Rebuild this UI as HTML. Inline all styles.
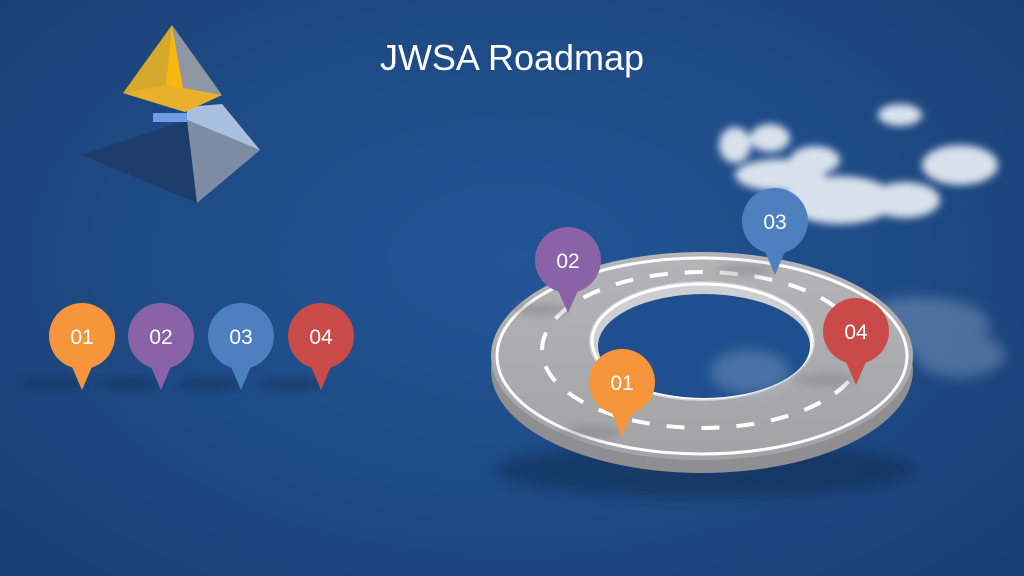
<!DOCTYPE html>
<html><head><meta charset="utf-8"><style>
html,body{margin:0;padding:0;width:1024px;height:576px;overflow:hidden;}
body{background:radial-gradient(ellipse at 50% 45%,#225596 0%,#1f4c88 45%,#1a3e72 100%);}
svg{position:absolute;left:0;top:0;}
text{font-family:"Liberation Sans","DejaVu Sans",sans-serif;}
</style></head><body>
<svg width="1024" height="576" viewBox="0 0 1024 576">
<defs>
<filter id="bl" x="-50%" y="-50%" width="200%" height="200%"><feGaussianBlur stdDeviation="6"/></filter>
<filter id="bl2" x="-50%" y="-50%" width="200%" height="200%"><feGaussianBlur stdDeviation="4"/></filter>
<linearGradient id="road" x1="0" y1="0" x2="0" y2="1"><stop offset="0" stop-color="#b5b5b7"/><stop offset="1" stop-color="#a3a3a6"/></linearGradient>
</defs>
<text x="512" y="70" font-size="36" fill="#fff" text-anchor="middle">JWSA Roadmap</text>
<!-- pyramid bottom -->
<polygon points="82,155 187,120 197,203" fill="#1d3d6a"/>
<polygon points="187,120 260,150 197,203" fill="#7d8ca3"/>
<polygon points="187,107 222,104 260,150 187,120" fill="#a9bfe0"/>
<polygon points="153,113 187,113 187,122 153,122" fill="#6d9ee6"/>
<!-- pyramid top -->
<polygon points="172,25 123,93 185,112" fill="#d4a92c"/>
<polygon points="172,25 222,95 185,112" fill="#8e97a3"/>
<polygon points="172,25 166,85 183,88" fill="#f6b80f"/>
<polygon points="123,93 166,85 183,88 222,95 185,112" fill="#e9b02a"/>
<!-- clouds -->
<g fill="#eef2f8" filter="url(#bl2)" opacity="0.9">
<ellipse cx="735" cy="145" rx="16" ry="18"/>
<ellipse cx="770" cy="138" rx="20" ry="14"/>
<ellipse cx="780" cy="175" rx="45" ry="16"/>
<ellipse cx="840" cy="200" rx="55" ry="24"/>
<ellipse cx="905" cy="200" rx="35" ry="18"/>
<ellipse cx="960" cy="165" rx="38" ry="20"/>
<ellipse cx="900" cy="115" rx="22" ry="11"/>
<ellipse cx="815" cy="160" rx="25" ry="14"/>
</g>
<g fill="#c9d7ea" filter="url(#bl)" opacity="0.28">
<ellipse cx="920" cy="325" rx="70" ry="28"/>
<ellipse cx="960" cy="355" rx="45" ry="22"/>
<ellipse cx="760" cy="370" rx="45" ry="30"/>
</g>
<!-- shadow under ring -->
<ellipse cx="705" cy="470" rx="210" ry="28" fill="#10284a" opacity="0.45" filter="url(#bl)"/>
<!-- ring side -->
<ellipse cx="702" cy="370" rx="211" ry="103" fill="#8f8f92"/>
<ellipse cx="702" cy="356" rx="211" ry="104" fill="url(#road)"/>
<ellipse cx="702" cy="356" rx="205" ry="98" fill="none" stroke="#fff" stroke-width="3"/>
<ellipse cx="702" cy="350" rx="160" ry="78" fill="none" stroke="#fff" stroke-width="4" stroke-dasharray="18 17"/>
<!-- inner hole -->
<ellipse cx="702" cy="341" rx="113" ry="60" fill="#cfcfd2"/>
<ellipse cx="702" cy="341" rx="110" ry="57" fill="none" stroke="#fff" stroke-width="3"/>
<ellipse cx="704" cy="346" rx="106" ry="52" fill="#1f4f8e"/>
<ellipse cx="750" cy="372" rx="40" ry="22" fill="#c9d7ea" opacity="0.25" filter="url(#bl)"/>
<!-- pin shadows -->
<g fill="#12305a" opacity="0.55" filter="url(#bl2)">
<ellipse cx="52" cy="384" rx="32" ry="6"/><ellipse cx="130" cy="384" rx="32" ry="6"/><ellipse cx="210" cy="384" rx="32" ry="6"/><ellipse cx="290" cy="384" rx="32" ry="6"/>
</g>
<g fill="#777" opacity="0.4" filter="url(#bl2)">
<ellipse cx="540" cy="310" rx="28" ry="6"/><ellipse cx="745" cy="270" rx="30" ry="6"/><ellipse cx="825" cy="380" rx="30" ry="6"/><ellipse cx="590" cy="432" rx="30" ry="6"/>
</g>
<!-- pins -->
<g font-size="21" text-anchor="middle" fill="#fff">
<g fill="#f7953d"><circle cx="82" cy="336" r="33"/><polygon points="70,362 94,362 82,390"/></g><text x="82" y="344">01</text>
<g fill="#8a62a8"><circle cx="161" cy="336" r="33"/><polygon points="149,362 173,362 161,390"/></g><text x="161" y="344">02</text>
<g fill="#4e80c0"><circle cx="241" cy="336" r="33"/><polygon points="229,362 253,362 241,390"/></g><text x="241" y="344">03</text>
<g fill="#c94a48"><circle cx="321" cy="336" r="33"/><polygon points="309,362 333,362 321,390"/></g><text x="321" y="344">04</text>
<g fill="#8a62a8"><circle cx="568" cy="260" r="33"/><polygon points="556,286 580,286 568,313"/></g><text x="568" y="268">02</text>
<g fill="#4e80c0"><circle cx="775" cy="221" r="33"/><polygon points="763,247 787,247 775,275"/></g><text x="775" y="229">03</text>
<g fill="#c94a48"><circle cx="856" cy="331" r="33"/><polygon points="844,357 868,357 856,385"/></g><text x="856" y="339">04</text>
<g fill="#f7953d"><circle cx="622" cy="382" r="33"/><polygon points="610,408 634,408 622,437"/></g><text x="622" y="390">01</text>
</g>
</svg>
</body></html>
